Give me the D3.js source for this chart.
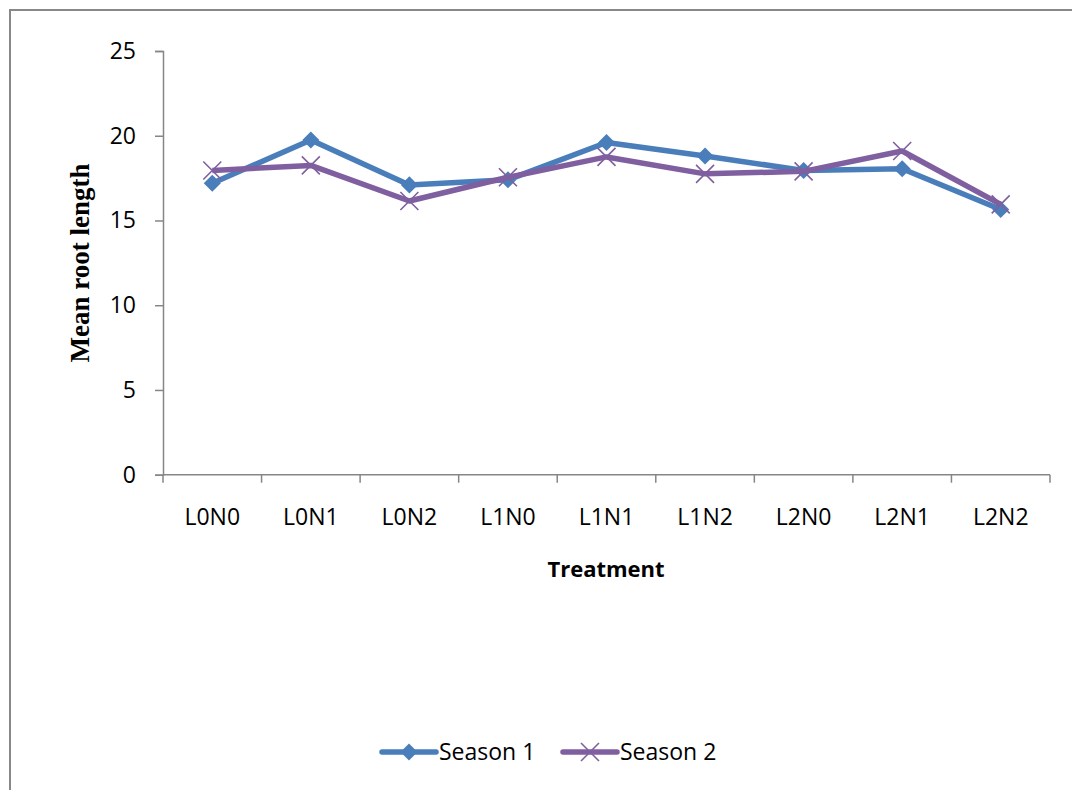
<!DOCTYPE html>
<html>
<head>
<meta charset="utf-8">
<script src="https://cdn.jsdelivr.net/npm/d3@7"></script>
<style>
  body { margin: 0; background: #fff; }
  svg text { font-family: "Open Sans", "Liberation Sans", sans-serif; }
</style>
</head>
<body>
<div id="chart-area"></div>
<script>

// data
let treatments = ["L0N0", "L0N1", "L0N2", "L1N0", "L1N1", "L1N2", "L2N0", "L2N1", "L2N2"];
let season1 = [17.2, 19.75, 17.1, 17.4, 19.6, 18.8, 17.95, 18.05, 15.65];
let season2 = [17.95, 18.25, 16.15, 17.55, 18.75, 17.75, 17.9, 19.1, 15.95];
let yTicks = [0, 5, 10, 15, 20, 25];
let seriesNames = ["Season 1", "Season 2"];
let colors = ["#4A7EBB", "#7F5F9F"];

let W = 1072, H = 790;

let svg = d3.select("#chart-area").append("svg")
	.attr("width", W)
	.attr("height", H);

// chart frame (only top + left edges show)
svg.append("path")
	.attr("d", "M10," + H + " L10,10 L" + W + ",10")
	.attr("fill", "none")
	.attr("stroke", "#888")
	.attr("stroke-width", 2);

// scales
let x = d3.scaleBand()
	.domain(treatments)
	.range([163, 1050]);

let y = d3.scaleLinear()
	.domain([0, 25])
	.range([474.7, 51]);

let axisColor = "#868686";

// y axis
let yAxis = svg.append("g")
	.attr("transform", "translate(163,0)")
	.call(d3.axisLeft(y).tickValues(yTicks).tickSize(8).tickPadding(19));
yAxis.select(".domain").attr("stroke", axisColor).attr("stroke-width", 1.5);
yAxis.selectAll(".tick line").attr("stroke", axisColor).attr("stroke-width", 1.5);
yAxis.selectAll(".tick text")
	.attr("fill", "#000")
	.style("font-family", "'Open Sans', sans-serif")
	.style("font-size", "23px");

// x axis, ticks sit between categories
let xAxis = svg.append("g")
	.attr("transform", "translate(0," + y(0) + ")");
xAxis.append("line")
	.attr("x1", 163).attr("x2", 1050)
	.attr("stroke", axisColor).attr("stroke-width", 1.5);
let edges = treatments.map(d => x(d)).concat([x.range()[1]]);
xAxis.selectAll(".xtick")
	.data(edges)
	.enter().append("line")
	.attr("x1", d => d).attr("x2", d => d)
	.attr("y1", 0).attr("y2", 8)
	.attr("stroke", axisColor).attr("stroke-width", 1.5);
xAxis.selectAll(".xlabel")
	.data(treatments)
	.enter().append("text")
	.attr("x", d => x(d) + x.bandwidth() / 2)
	.attr("y", 50)
	.attr("text-anchor", "middle")
	.style("font-size", "23px")
	.text(d => d);

// axis titles
svg.append("text")
	.attr("x", 606)
	.attr("y", 577)
	.attr("text-anchor", "middle")
	.style("font-size", "22px")
	.style("font-weight", "bold")
	.text("Treatment");

svg.append("text")
	.attr("transform", "translate(89,263) rotate(-90)")
	.attr("text-anchor", "middle")
	.style("font-family", "'Liberation Serif', serif")
	.style("font-size", "27px")
	.style("font-weight", "bold")
	.text("Mean root length");

// lines
let line = d3.line()
	.x((d, i) => x(treatments[i]) + x.bandwidth() / 2)
	.y(d => y(d));

let allSeries = [season1, season2];

let diamond = d3.symbol().type(d3.symbolDiamond2).size(185);
function cross(s) {
	return "M" + (-s) + "," + (-s) + "L" + s + "," + s + "M" + (-s) + "," + s + "L" + s + "," + (-s);
}

allSeries.forEach(function(vals, k) {
	svg.append("path")
		.datum(vals)
		.attr("d", line)
		.attr("fill", "none")
		.attr("stroke", colors[k])
		.attr("stroke-width", 5.5)
		.attr("stroke-linejoin", "round");

	let pts = svg.selectAll(".pt" + k)
		.data(vals)
		.enter().append("path")
		.attr("transform", (d, i) => "translate(" + (x(treatments[i]) + x.bandwidth() / 2) + "," + y(d) + ")");
	if (k === 0) {
		pts.attr("d", diamond).attr("fill", colors[k]);
	} else {
		pts.attr("d", cross(9)).attr("fill", "none").attr("stroke", colors[k]).attr("stroke-width", 1.6);
	}
});

// legend
let legendX = [382, 563];
seriesNames.forEach(function(name, k) {
	let g = svg.append("g").attr("transform", "translate(" + legendX[k] + ",752)");
	g.append("line")
		.attr("x1", 0).attr("x2", 54)
		.attr("stroke", colors[k]).attr("stroke-width", 5.5)
		.attr("stroke-linecap", "round");
	if (k === 0) {
		g.append("path").attr("d", diamond).attr("transform", "translate(27,0)").attr("fill", colors[k]);
	} else {
		g.append("path").attr("d", cross(9)).attr("transform", "translate(27,0)")
			.attr("fill", "none").attr("stroke", colors[k]).attr("stroke-width", 1.6);
	}
	g.append("text")
		.attr("x", 57)
		.attr("y", 8)
		.style("font-size", "23px")
		.text(name);
});

</script>
</body>
</html>
